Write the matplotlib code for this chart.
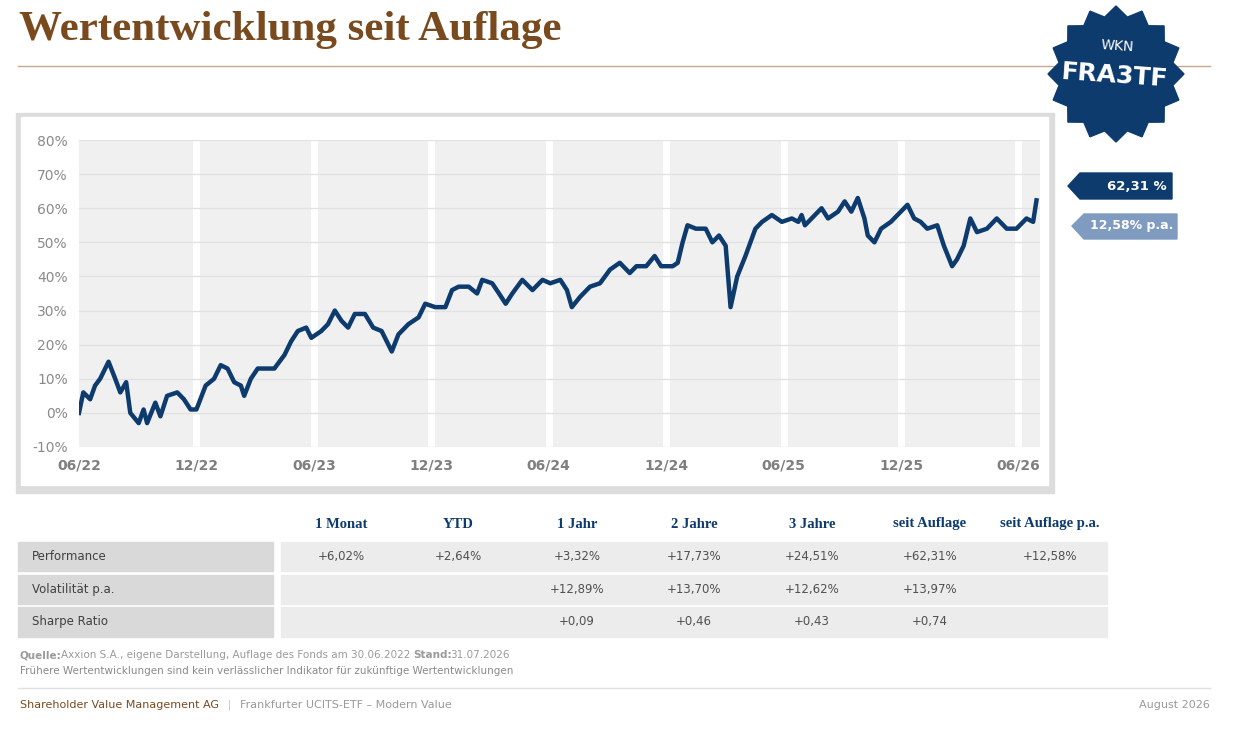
import matplotlib.pyplot as plt
from matplotlib.patches import Rectangle, Polygon
import numpy as np

# months since 06/2022 and performance in %
months = [0, 0.22, 0.57, 0.82, 1.08, 1.51, 1.85, 2.11, 2.41, 2.62, 3.05, 3.30, 3.48, 3.90,
          4.16, 4.50, 5.02, 5.36, 5.70, 6.0, 6.47, 6.9, 7.24, 7.59, 7.93, 8.27, 8.44, 8.78,
          9.13, 9.64, 9.98, 10.5, 10.84, 11.18, 11.61, 11.87, 12.38, 12.72, 13.07, 13.41,
          13.75, 14.09, 14.61, 15.03, 15.46, 15.98, 16.32, 16.83, 17.35, 17.69, 18.2, 18.72,
          19.06, 19.4, 19.91, 20.34, 20.6, 21.11, 21.46, 21.8, 22.14, 22.65, 23.17, 23.68,
          24.08, 24.59, 24.93, 25.18, 25.6, 26.11, 26.62, 27.13, 27.63, 28.14, 28.48, 28.98,
          29.41, 29.74, 30.33, 30.59, 30.84, 31.09, 31.52, 32.02, 32.36, 32.7, 33.04, 33.29,
          33.63, 34.05, 34.56, 34.9, 35.4, 35.91, 36.42, 36.75, 36.92, 37.09, 37.6, 37.94,
          38.27, 38.78, 39.12, 39.46, 39.79, 40.13, 40.3, 40.64, 40.98, 41.48, 41.82, 42.33,
          42.67, 43.0, 43.34, 43.85, 44.19, 44.61, 44.86, 45.2, 45.54, 45.88, 46.39, 46.89,
          47.4, 47.9, 48.41, 48.75, 48.92]
perf = [0, 6, 4, 8, 10, 15, 10, 6, 9, 0, -3, 1, -3, 3,
        -1, 5, 6, 4, 1, 1, 8, 10, 14, 13, 9, 8, 5, 10,
        13, 13, 13, 17, 21, 24, 25, 22, 24, 26, 30, 27,
        25, 29, 29, 25, 24, 18, 23, 26, 28, 32, 31, 31,
        36, 37, 37, 35, 39, 38, 35, 32, 35, 39, 36, 39,
        38, 39, 36, 31, 34, 37, 38, 42, 44, 41, 43, 43,
        46, 43, 43, 44, 50, 55, 54, 54, 50, 52, 49, 31,
        40, 46, 54, 56, 58, 56, 57, 56, 58, 55, 58, 60,
        57, 59, 62, 59, 63, 57, 52, 50, 54, 56, 58, 61,
        57, 56, 54, 55, 49, 43, 45, 49, 57, 53, 54, 57,
        54, 54, 57, 56, 62.31]
tick_labels = ['06/22', '12/22', '06/23', '12/23', '06/24', '12/24', '06/25', '12/25', '06/26']

col_heads = ['1 Monat', 'YTD', '1 Jahr', '2 Jahre', '3 Jahre', 'seit Auflage', 'seit Auflage p.a.']
row_names = ['Performance', 'Volatilität p.a.', 'Sharpe Ratio']
table_vals = [
    ['+6,02%', '+2,64%', '+3,32%', '+17,73%', '+24,51%', '+62,31%', '+12,58%'],
    ['', '', '+12,89%', '+13,70%', '+12,62%', '+13,97%', ''],
    ['', '', '+0,09', '+0,46', '+0,43', '+0,74', ''],
]

navy = '#0d3b6e'
brown = '#7a4a1f'
W, H = 1236, 730
fig = plt.figure(figsize=(W / 100, H / 100), dpi=100)
bg = fig.add_axes([0, 0, 1, 1])
bg.set_xlim(0, W)
bg.set_ylim(H, 0)
bg.axis('off')

# title
bg.text(19, 30, 'Wertentwicklung seit Auflage', family='Liberation Serif', weight='bold',
        fontsize=31, color=brown, va='center')
bg.plot([18, 1210], [66, 66], color='#c8a88a', lw=1)

# chart frame
bg.add_patch(Rectangle((16, 113), 1038, 380, color='#dcdcdc', zorder=0))
bg.add_patch(Rectangle((21, 117), 1027, 368, color='white', zorder=0))

# WKN badge
ang = np.linspace(0, 2 * np.pi, 33)[:-1]
rad = np.where(np.arange(32) % 2 == 0, 68, 58)
bg.add_patch(Polygon(np.column_stack([1116 + rad * np.cos(ang), 74 + rad * np.sin(ang)]),
                     color=navy, zorder=2))
bg.text(1117, 46, 'WKN', color='white', fontsize=10, ha='center', va='center', rotation=-4, zorder=3)
bg.text(1115, 76, 'FRA3TF', color='white', fontsize=18, weight='bold', ha='center',
        va='center', rotation=-4, zorder=3)

# value tags
bg.add_patch(Polygon([[1068, 186], [1080, 173], [1172, 173], [1172, 199], [1080, 199]], color=navy))
bg.text(1137, 186, '62,31 %', color='white', fontsize=9.5, weight='bold', ha='center', va='center')
bg.add_patch(Polygon([[1072, 226], [1084, 214], [1177, 214], [1177, 239], [1084, 239]], color='#7f9cc0'))
bg.text(1132, 226, '12,58% p.a.', color='white', fontsize=9, weight='bold', ha='center', va='center')

# chart
ax = fig.add_axes([79 / W, 1 - 447 / H, 961 / W, 307 / H])
ax.set_facecolor('#f0f0f0')
ax.plot(months, perf, color=navy, lw=3.2, zorder=3, solid_joinstyle='round')
ax.set_xlim(0, 49.1)
ax.set_ylim(-10, 80)
ax.set_xticks(range(0, 49, 6))
ax.set_xticklabels(tick_labels, color='#7f7f7f', fontsize=10, weight='bold')
ax.set_yticks(range(-10, 81, 10))
ax.set_yticklabels([f'{v}%' for v in range(-10, 81, 10)], color='#8a8a8a', fontsize=10)
ax.grid(axis='y', color='#e2e2e2', lw=1)
for m in range(6, 49, 6):
    ax.axvline(m, color='white', lw=5, zorder=1)
ax.tick_params(length=0, pad=8)
for s in ax.spines.values():
    s.set_visible(False)

# table
cols_x = [341, 458, 577, 694, 812, 930, 1050]
for cx, h in zip(cols_x, col_heads):
    bg.text(cx, 524, h, family='Liberation Serif', weight='bold', fontsize=10.5, color=navy,
            ha='center', va='center')
rows_y = [(542, 571), (575, 604), (607, 637)]
for (y0, y1), name, vals in zip(rows_y, row_names, table_vals):
    bg.add_patch(Rectangle((18, y0), 255, y1 - y0, color='#d9d9d9'))
    bg.add_patch(Rectangle((281, y0), 826, y1 - y0, color='#ececec'))
    bg.text(32, (y0 + y1) / 2, name, fontsize=8.5, color='#404040', va='center')
    for cx, v in zip(cols_x, vals):
        bg.text(cx, (y0 + y1) / 2, v, fontsize=8.5, color='#505050', ha='center', va='center')

# notes
bg.text(20, 655, 'Quelle:', fontsize=7.5, weight='bold', color='#9a9a9a', va='center')
bg.text(61, 655, 'Axxion S.A., eigene Darstellung, Auflage des Fonds am 30.06.2022', fontsize=7.5,
        color='#9a9a9a', va='center')
bg.text(413, 655, 'Stand:', fontsize=7.5, weight='bold', color='#9a9a9a', va='center')
bg.text(450, 655, '31.07.2026', fontsize=7.5, color='#9a9a9a', va='center')
bg.text(20, 671, 'Frühere Wertentwicklungen sind kein verlässlicher Indikator für zukünftige Wertentwicklungen',
        fontsize=7.5, color='#8a8a8a', va='center')
bg.plot([18, 1210], [688, 688], color='#e0e0e0', lw=1)
bg.text(20, 705, 'Shareholder Value Management AG', fontsize=8, color=brown, va='center')
bg.text(228, 705, '|', fontsize=7, color='#bbbbbb', va='center')
bg.text(240, 705, 'Frankfurter UCITS-ETF – Modern Value', fontsize=8, color='#9a9a9a', va='center')
bg.text(1210, 705, 'August 2026', fontsize=8, color='#9a9a9a', va='center', ha='right')

fig.savefig('out.png', dpi=100)
